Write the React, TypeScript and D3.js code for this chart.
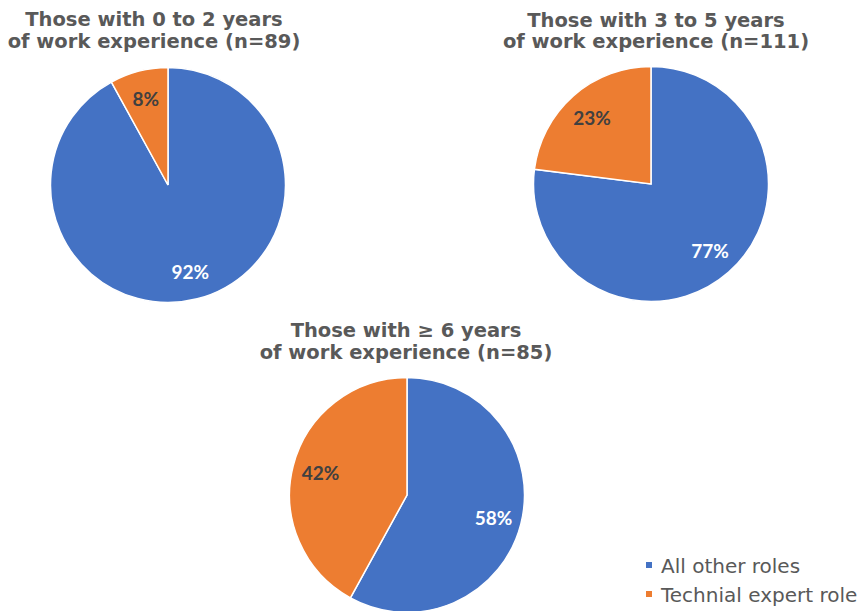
import React from "react";
import * as d3 from "d3";

const titleLine1 = ["Those with 0 to 2 years", "Those with 3 to 5 years", "Those with \u2265 6 years"];
const titleLine2 = ["of work experience (n=89)", "of work experience (n=111)", "of work experience (n=85)"];
const allOtherRoles = [92, 77, 58];
const technicalExpertRole = [8, 23, 42];
const seriesNames = ["All other roles", "Technial expert role"];
const seriesColors = ["#4472C4", "#ED7D31"];
const labelColors = ["#FFFFFF", "#404040"];

const W = 866;
const H = 611;
const R = 117.5;
const centers: [number, number][] = [
  [168, 185],
  [651, 184],
  [407, 495],
];
const titleCenters: [number, number][] = [
  [154, 26],
  [656, 26.5],
  [406, 337],
];

export default function App() {
  const pie = d3
    .pie<number>()
    .sort(null)
    .value((d) => d);
  const arc = d3.arc<d3.PieArcDatum<number>>().innerRadius(0).outerRadius(R);
  const labelArc = d3
    .arc<d3.PieArcDatum<number>>()
    .innerRadius(R * 0.76)
    .outerRadius(R * 0.76);

  return (
    <svg
      width={W}
      height={H}
      style={{ position: "fixed", left: 0, top: 0, background: "#fff", display: "block" }}
    >
      {allOtherRoles.map((v, i) => {
        const arcs = pie([v, technicalExpertRole[i]]);
        const [cx, cy] = centers[i];
        const [tx, ty] = titleCenters[i];
        return (
          <g key={i}>
            <text
              x={tx}
              y={ty}
              textAnchor="middle"
              fontFamily="DejaVu Sans"
              fontWeight="bold"
              fontSize={19.5}
              fill="#595959"
            >
              {titleLine1[i]}
            </text>
            <text
              x={tx}
              y={ty + 21.5}
              textAnchor="middle"
              fontFamily="DejaVu Sans"
              fontWeight="bold"
              fontSize={19.5}
              fill="#595959"
            >
              {titleLine2[i]}
            </text>
            <g transform={`translate(${cx},${cy})`}>
              {arcs.map((a, j) => (
                <path key={j} d={arc(a) || ""} fill={seriesColors[j]} stroke="#fff" strokeWidth={1.5} />
              ))}
              {arcs.map((a, j) => {
                const [lx, ly] = labelArc.centroid(a);
                return (
                  <text
                    key={"l" + j}
                    x={lx}
                    y={ly}
                    textAnchor="middle"
                    dominantBaseline="central"
                    fontFamily="Lato"
                    fontWeight="bold"
                    fontSize={19}
                    fill={labelColors[j]}
                  >
                    {a.data}%
                  </text>
                );
              })}
            </g>
          </g>
        );
      })}
      {seriesNames.map((s, j) => (
        <g key={s} transform={`translate(646,${573 + j * 29})`}>
          <rect x={0} y={-11} width={6} height={6} fill={seriesColors[j]} />
          <text x={15} y={0} fontFamily="DejaVu Sans" fontSize={20} fill="#595959">
            {s}
          </text>
        </g>
      ))}
    </svg>
  );
}
